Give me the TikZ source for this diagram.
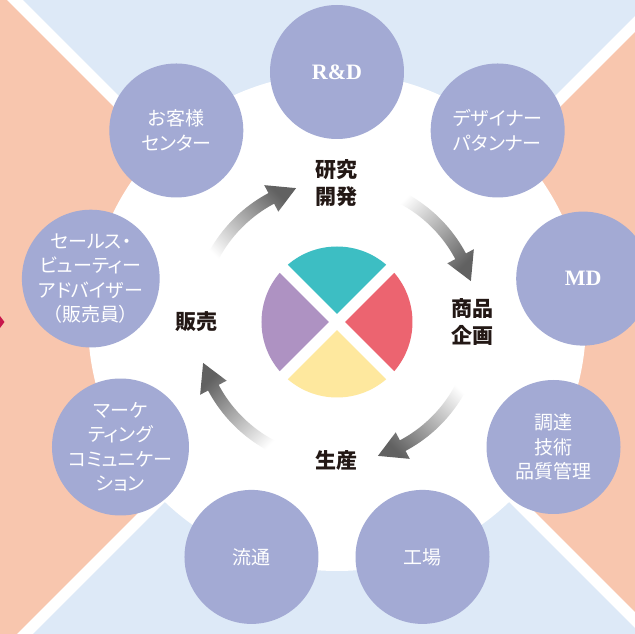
\documentclass[tikz,border=0pt]{standalone}
\usepackage{fontspec}
\setmainfont{Liberation Serif}
\newfontfamily\jpfont[RawFeature=+palt]{Noto Sans CJK JP}

\definecolor{skyback}{HTML}{DDE9F7}
\definecolor{salmonback}{HTML}{F8C6AE}
\definecolor{deptblue}{HTML}{A3AAD4}
\definecolor{pieteal}{HTML}{3DBEC3}
\definecolor{piered}{HTML}{EC6470}
\definecolor{pieyellow}{HTML}{FEE89E}
\definecolor{piepurple}{HTML}{AE92C2}
\definecolor{inkdark}{HTML}{231815}
\definecolor{markred}{HTML}{C8174B}

% curved gray arrow of the cycle, #1 = middle angle, #2 = shading angle
\newcommand{\cyclearrow}[2]{%
  \shade[top color=black!62, bottom color=white, shading angle=#2]
    (#1+22:134) arc[start angle=#1+22, end angle=#1-17, radius=134]
    -- (#1-17:125) -- (#1-28:140) -- (#1-17:155) -- (#1-17:146)
    arc[start angle=#1-17, end angle=#1+22, radius=146] -- cycle;}

\begin{document}
\begin{tikzpicture}[x=1pt,y=1pt,
    dept/.style={circle,fill=deptblue,minimum size=134pt,inner sep=0pt,text=white,align=center,font=\jpfont\fontsize{19}{24.5}\selectfont},
    latin dept/.style={dept,font=\bfseries\fontsize{22}{24}\selectfont},
    stage/.style={text=inkdark,align=center,font=\jpfont\bfseries\fontsize{21}{27}\selectfont}]
    \useasboundingbox (-337,-312) rectangle (298,322);

    % background
    \begin{scope}
        \clip (-337,-312) rectangle (298,322);
        \fill[skyback] (-337,-312) rectangle (298,322);
        \fill[salmonback] (0,0) -- (-400,400) -- (-400,-400) -- cycle;
        \fill[salmonback] (0,0) -- (400,400) -- (400,-400) -- cycle;
        \draw[white,line width=11] (-400,-400) -- (400,400);
        \draw[white,line width=11] (-400,400) -- (400,-400);
        \fill[markred] (-337,6) -- (-332.5,0) -- (-337,-6) -- cycle;
        \fill[white] (0,0) circle (249);
    \end{scope}

    % departments
    \node[latin dept] (rd) at (90:250) {R\&D};
    \node[dept] (design) at (50:250) {デザイナー\\パタンナー};
    \node[latin dept] (md) at (10:250) {MD};
    \node[dept] (procure) at (-30:250) {調達\\技術\\品質管理};
    \node[dept] (factory) at (-70:250) {工場};
    \node[dept] (logistics) at (-110:250) {流通};
    \node[dept] (marketing) at (-150:250) {マーケ\\ティング\\コミュニケー\\ション};
    \node[dept] (advisor) at (170:250) {セールス・\\ビューティー\\アドバイザー\\（販売員）};
    \node[dept] (customer) at (130:250) {お客様\\センター};

    % pie
    \fill[pieteal] (0,0) -- (45:75.5) arc[start angle=45,end angle=135,radius=75.5] -- cycle;
    \fill[piepurple] (0,0) -- (135:75.5) arc[start angle=135,end angle=225,radius=75.5] -- cycle;
    \fill[pieyellow] (0,0) -- (225:75.5) arc[start angle=225,end angle=315,radius=75.5] -- cycle;
    \fill[piered] (0,0) -- (-45:75.5) arc[start angle=-45,end angle=45,radius=75.5] -- cycle;
    \draw[white,line width=11] (-80,-80) -- (80,80);
    \draw[white,line width=11] (-80,80) -- (80,-80);

    % stages
    \node[stage] (research) at (90:139) {研究\\開発};
    \node[stage] (planning) at (0:136) {商品\\企画};
    \node[stage] (production) at (-90:138) {生産};
    \node[stage] (retail) at (180:140) {販売};

    \cyclearrow{135}{-45}
    \cyclearrow{45}{-135}
    \cyclearrow{-45}{-225}
    \cyclearrow{-135}{-315}
\end{tikzpicture}
\end{document}
